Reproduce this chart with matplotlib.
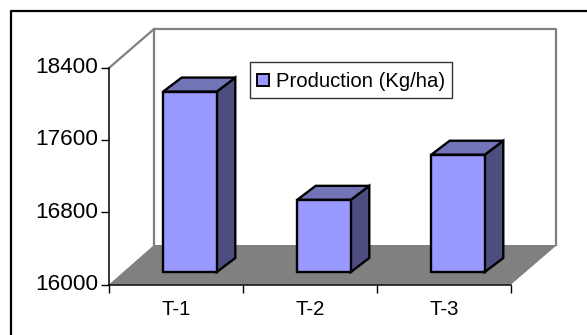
import matplotlib
matplotlib.use("Agg")
import matplotlib.pyplot as plt
from matplotlib.legend_handler import HandlerPatch
from matplotlib.lines import Line2D
from matplotlib.patches import Patch, Polygon, Rectangle
from matplotlib.transforms import Affine2D, ScaledTranslation

categories = ["T-1", "T-2", "T-3"]
production = [18000, 16800, 17300]
y_ticks = [16000, 16800, 17600, 18400]
series_name = "Production (Kg/ha)"

plt.rcParams["font.family"] = "Liberation Sans"

W, H = 587, 335
fig = plt.figure(figsize=(W / 100, H / 100), dpi=100)
ax = fig.add_axes([109 / W, 1 - 284.5 / H, 402 / W, 216.5 / H])
ax.set_xlim(0, 3)
ax.set_ylim(16000, 18400)
ax.patch.set_visible(False)


# offset in screen pixels, used to fake the 3d depth
def depth(dx, dy):
    return ax.transData + Affine2D().translate(dx, dy)


back = depth(45, 39.5)
front = depth(14, 12.5)

# floor and wall
floor = Polygon([(109, 50.5), (511, 50.5), (557, 90), (154, 90)], closed=True, fc="#808080", ec="none",
                transform=None, zorder=1, clip_on=False)
ax.add_patch(floor)
wall = dict(color="#808080", lw=1.6, zorder=1, clip_on=False)
ax.plot([0, 0, 3, 3], [16000, 18400, 18400, 16000], transform=back, **wall)
ax.add_line(Line2D([109, 154], [H - 68, H - 29], transform=None, **wall))

# bars
width = 0.4
side_x = 18.5 / 134
side_y = 14 / 0.0902
for i, val in enumerate(production):
    x0, x1 = i + 0.5 - width / 2, i + 0.5 + width / 2
    ec = dict(ec="black", lw=1.7, joinstyle="miter", zorder=3, clip_on=False)
    ax.add_patch(Polygon([(x1, 16000), (x1, val), (x1 + side_x, val + side_y),
                          (x1 + side_x, 16000 + side_y)], fc="#4D4D80", transform=front, **ec))
    ax.add_patch(Polygon([(x0, val), (x1, val), (x1 + side_x, val + side_y),
                          (x0 + side_x, val + side_y)], fc="#7373B8", transform=front, **ec))
    ax.bar(i + 0.5, val - 16000, width, bottom=16000, color="#9999FF", edgecolor="black", linewidth=1.7,
           transform=front, zorder=4, clip_on=False)

# axes
for s in ["top", "right"]:
    ax.spines[s].set_visible(False)
for s in ["left", "bottom"]:
    ax.spines[s].set_linewidth(1.1)
    ax.spines[s].set_zorder(5)
ax.set_yticks(y_ticks)
ax.tick_params(axis="y", labelsize=16.2, length=6, width=1, pad=2)
shift_up = ScaledTranslation(0, 2 / 72, fig.dpi_scale_trans)
for lab in ax.get_yticklabels():
    lab.set_transform(lab.get_transform() + shift_up)
ax.set_xticks(range(4))
ax.set_xticklabels([])
ax.set_xticks([i + 0.5 for i in range(3)], categories, minor=True)
ax.tick_params(axis="x", which="major", length=6, width=1)
ax.tick_params(axis="x", which="minor", length=0, labelsize=14.6, pad=11.5)


# legend swatch is smaller than its slot so the box gets the right height
def swatch(legend, orig_handle, xdescent, ydescent, width, height, fontsize):
    return Rectangle((0, (height - 12.5 * 0.72) / 2 - ydescent), 12 * 0.72, 12.5 * 0.72)


handle = Patch(fc="#9999FF", ec="black", lw=1.4)
ax.legend([handle], [series_name], loc="upper left", bbox_to_anchor=(250 / W, 1 - 62 / H),
          bbox_transform=fig.transFigure, fontsize=14.6, fancybox=False, framealpha=1, edgecolor="#333333",
          borderaxespad=0, borderpad=0.36, handlelength=0.62, handleheight=1.25, handletextpad=0.3,
          handler_map={handle: HandlerPatch(patch_func=swatch)})

# outer frame, only left and top show
frame = dict(color="black", lw=1.6, solid_capstyle="projecting")
fig.add_artist(Line2D([11, 11, W], [0, H - 11, H - 11], transform=None, **frame))

fig.savefig("out.png", dpi=100)
